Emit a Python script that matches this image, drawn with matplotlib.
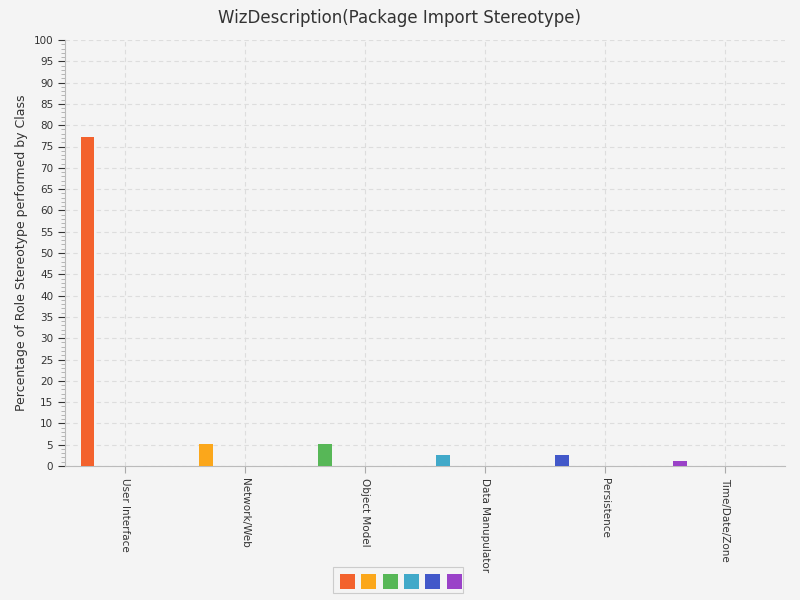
import matplotlib
matplotlib.use("Agg")
import matplotlib.pyplot as plt
from matplotlib.patches import Rectangle
import numpy as np

categories = ["User Interface", "Network/Web", "Object Model", "Data Manupulator", "Persistence", "Time/Date/Zone"]
values = [77.3, 5.2, 5.2, 2.6, 2.6, 1.2]
colors = ["#f3622d", "#fba71b", "#57b757", "#41a9c9", "#4258c9", "#9a42c8"]

fig = plt.figure(figsize=(8, 6), dpi=100, facecolor="#f4f4f4")
ax = fig.add_axes([65/800, 134/600, 720/800, 426/600], facecolor="#f4f4f4")

n = len(categories)
idx = np.arange(n)
# bar positions inside each category band (band 0..1)
offsets = 0.13 - 0.012 * idx
ax.bar(idx + offsets, values, width=0.115, color=colors, align="edge", zorder=3)

ax.set_xlim(0, n)
ax.set_ylim(0, 100)
ax.set_xticks(idx + 0.5)
ax.set_xticklabels(categories, rotation=-90, fontsize=7.5, color="#333333")
ax.set_yticks(np.arange(0, 101, 5))
ax.set_yticks(np.arange(0, 101, 1), minor=True)
ax.tick_params(axis="y", labelsize=7.5, colors="#333333", length=5)
ax.tick_params(axis="y", which="minor", length=3, colors="#aaaaaa")
ax.tick_params(axis="x", length=5, colors="#aaaaaa", labelcolor="#333333")
ax.grid(True, which="major", linestyle=(0, (4, 3)), color="#dddddd", linewidth=0.8, zorder=0)
for s in ["top", "right"]:
    ax.spines[s].set_visible(False)
for s in ["left", "bottom"]:
    ax.spines[s].set_color("#bbbbbb")

ax.set_ylabel("Percentage of Role Stereotype performed by Class", fontsize=9, color="#333333")
fig.text(0.5, 0.97, "WizDescription(Package Import Stereotype)", ha="center", va="center",
         fontsize=12, color="#333333")

# legend
lx0, ly0, lw, lh = 333/800, 567/600, 130/800, 26/600
fig.patches.append(Rectangle((lx0, 1 - ly0 - lh), lw, lh, transform=fig.transFigure,
                             facecolor="#f4f4f4", edgecolor="#cccccc", linewidth=0.8))
for i, c in enumerate(colors):
    x = (340 + i * 21.3) / 800
    fig.patches.append(Rectangle((x, 1 - 589/600), 15/800, 15/600, transform=fig.transFigure,
                                 facecolor=c, edgecolor="none"))

fig.savefig("out.png", dpi=100, facecolor=fig.get_facecolor())
